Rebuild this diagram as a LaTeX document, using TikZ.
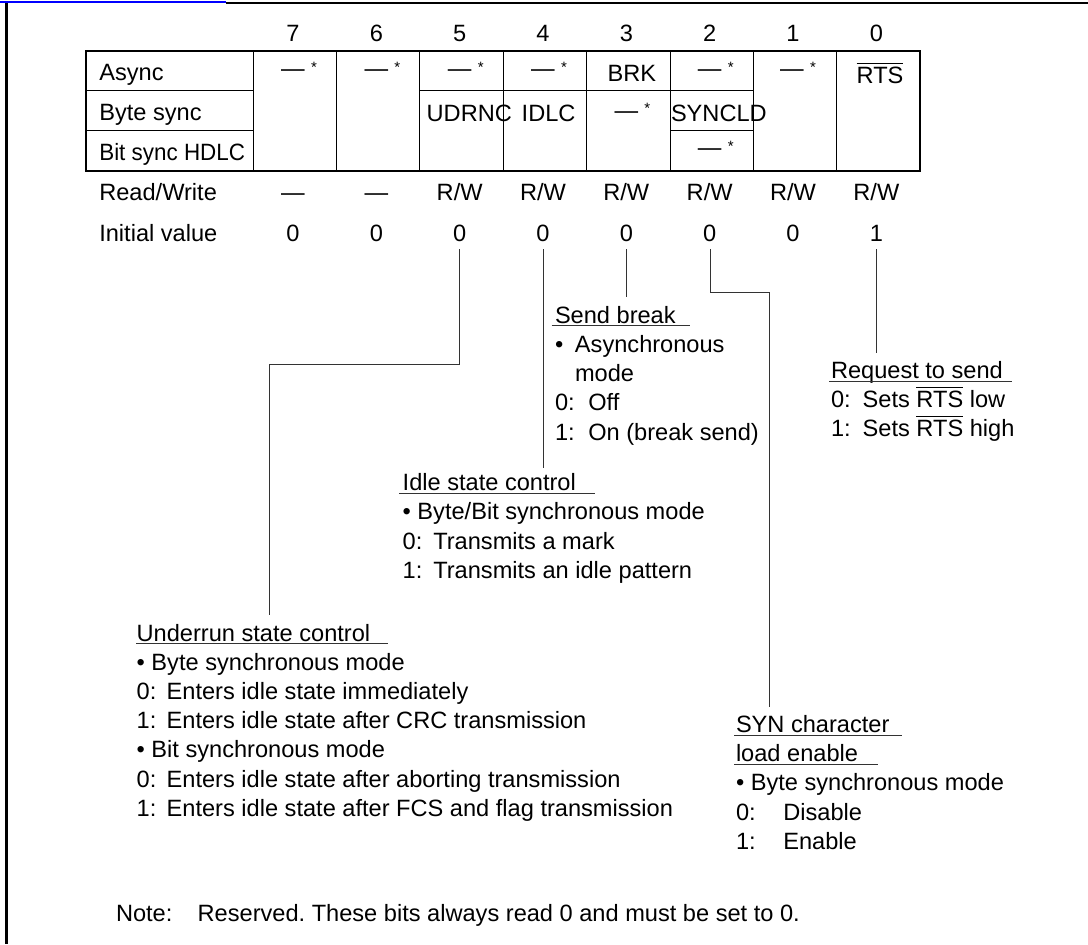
\documentclass[tikz,border=0pt]{standalone}
\usepackage{fontspec}
\setmainfont{Liberation Sans}
\frenchspacing
\newcommand\ovl[1]{\leavevmode\vbox{\hrule height 0.5pt\kern 1.3pt\hbox{#1}}}
\newcommand\rsv[3]{%
  \node[ctxt] (#1) at (#2,#3) {—};
  \node[ast] (#1s) at ([xshift=10.5pt,yshift=2.3pt]#1.base) {*};}
\tikzset{
  txt/.style={inner sep=0pt, outer sep=0pt, anchor=base west, font=\fontsize{11.8}{14}\selectfont},
  ctxt/.style={txt, anchor=base},
  ast/.style={inner sep=0pt, outer sep=0pt, anchor=base, font=\fontsize{7.5}{8}\selectfont},
  conn/.style={draw=black!80, line width=0.5pt},
  uline/.style={draw=black!80, line width=0.5pt},
  gridln/.style={draw=black, line width=0.5pt},
  outerln/.style={draw=black, line width=1pt},
}
\begin{document}
\begin{tikzpicture}[x=0.5pt,y=-0.5pt]
\useasboundingbox (0,0) rectangle (1088,944);
% frame
\draw[black, line width=1.15pt] (226,3.2) -- (1088,3.2);
\draw[black, line width=1.3pt] (6.7,2) -- (6.7,944);
\draw[blue, line width=1.15pt] (0,2.2) -- (226,2.2);
% bit numbers
\foreach \b in {7,...,0} {
  \pgfmathsetmacro\cx{293+83.333*(7-\b)}
  \node[ctxt] (n\b) at (\cx,41.7) {\b};
}
% table grid
\foreach \k in {0,...,7} \draw[gridln] ({253.33+83.333*\k},50.7) -- ({253.33+83.333*\k},171);
\draw[gridln] (86,90.3) -- (253.33,90.3);
\draw[gridln] (420,90.3) -- (753.33,90.3);
\draw[gridln] (86,130.3) -- (253.33,130.3);
\draw[gridln] (670,130.3) -- (753.33,130.3);
\draw[outerln] (86,50.7) rectangle (920,171);
% row labels
\node[txt] (lasync) at (99.3,80) {Async};
\node[txt] (lbyte) at (99.3,120) {Byte sync};
\node[txt] (lbit) at (99.3,160) {\scalebox{0.95}[1]{Bit sync HDLC}};
\node[txt] (lrw) at (99.3,200) {Read/Write};
\node[txt] (linit) at (99.3,241) {Initial value};
% cells
\rsv{r7}{293}{76.6}
\rsv{r6}{376.3}{76.6}
\rsv{r5}{459.7}{76.6}
\rsv{r4}{543}{76.6}
\rsv{r2}{709.7}{76.6}
\rsv{r1}{792}{76.6}
\rsv{rb3}{626.3}{118.3}
\rsv{rh2}{709.7}{155.6}
\node[txt] (brk) at (607.7,81.7) {BRK};
\node[txt] (rts) at (856.7,83.3) {\ovl{RTS}};
\node[txt] (udrnc) at (426.7,121.7) {UDRNC};
\node[txt] (idlc) at (521.7,121.7) {IDLC};
\node[txt] (syncld) at (671,121.7) {SYNCLD};
% read/write and initial values
\foreach \b/\rw/\iv in {7/—/0,6/—/0,5/R\slash W/0,4/R\slash W/0,3/R\slash W/0,2/R\slash W/0,1/R\slash W/0,0/R\slash W/1} {
  \pgfmathsetmacro\cx{293+83.333*(7-\b)}
  \node[ctxt] (w\b) at (\cx,200) {\rw};
  \node[ctxt] (v\b) at (\cx,241) {\iv};
}
% Send break
\node[txt] (sb0) at (555,323.3) {Send break};
\draw[uline] (551.7,325.5) -- (690,325.5);
\node[txt] (sb1) at (555,352.5) {\makebox[10pt][l]{•}Asynchronous};
\node[txt] (sb2) at (555,381.7) {\hspace*{10pt}mode};
\node[txt] (sb3) at (555,410.9) {\makebox[16.65pt][l]{0:}Off};
\node[txt] (sb4) at (555,440.1) {\makebox[16.65pt][l]{1:}On (break send)};
% Idle state control
\node[txt] (is0) at (402.7,490.7) {Idle state control};
\draw[uline] (399.3,493.3) -- (595,493.3);
\node[txt] (is1) at (402.7,519.9) {• Byte/Bit synchronous mode};
\node[txt] (is2) at (402.7,549.1) {\makebox[15.3pt][l]{0:}Transmits a mark};
\node[txt] (is3) at (402.7,578.3) {\makebox[15.3pt][l]{1:}Transmits an idle pattern};
% Request to send
\node[txt] (rq0) at (831,378.3) {Request to send};
\draw[uline] (829,381.7) -- (1011.7,381.7);
\node[txt] (rq1) at (831,407.3) {\makebox[15.85pt][l]{0:}Sets \ovl{RTS} low};
\node[txt] (rq2) at (831,436.3) {\makebox[15.85pt][l]{1:}Sets \ovl{RTS} high};
% Underrun state control
\node[txt] (us0) at (136.7,641.3) {Underrun state control};
\draw[uline] (136,643.3) -- (388.3,643.3);
\node[txt] (us1) at (136.7,670.2) {• Byte synchronous mode};
\node[txt] (us2) at (136.7,699.4) {\makebox[15pt][l]{0:}Enters idle state immediately};
\node[txt] (us3) at (136.7,728.6) {\makebox[15pt][l]{1:}Enters idle state after CRC transmission};
\node[txt] (us4) at (136.7,757.8) {• Bit synchronous mode};
\node[txt] (us5) at (136.7,787) {\makebox[15pt][l]{0:}Enters idle state after aborting transmission};
\node[txt] (us6) at (136.7,816.2) {\makebox[15pt][l]{1:}Enters idle state after FCS and flag transmission};
% SYN character load enable
\node[txt] (sy0) at (736,732.3) {SYN character};
\draw[uline] (734,735.7) -- (902.3,735.7);
\node[txt] (sy1) at (736,761.7) {load enable};
\draw[uline] (734,764.3) -- (878.3,764.3);
\node[txt] (sy2) at (736,790.9) {• Byte synchronous mode};
\node[txt] (sy3) at (736,820.1) {\makebox[23.65pt][l]{0:}Disable};
\node[txt] (sy4) at (736,849.3) {\makebox[23.65pt][l]{1:}Enable};
% Note
\node[txt] (note) at (116,921.7) {Note:};
\node[txt] (notet) at (197.7,921.7) {Reserved. These bits always read 0 and must be set to 0.};
% connectors
\coordinate (k5a) at (459.5,249);
\coordinate (k5b) at (459.5,364.3);
\coordinate (k5c) at (269.3,364.3);
\coordinate (k5d) at (269.3,615);
\coordinate (k4a) at (543,249);
\coordinate (k4b) at (543,468.3);
\coordinate (k3a) at (626.5,249);
\coordinate (k3b) at (626.5,296.7);
\coordinate (k2a) at (710,249);
\coordinate (k2b) at (710,292.3);
\coordinate (k2c) at (769,292.3);
\coordinate (k2d) at (769,706.7);
\coordinate (k0a) at (876,249);
\coordinate (k0b) at (876,352.7);
\draw[conn] (k5a) -- (k5b) -- (k5c) -- (k5d);
\draw[conn] (k4a) -- (k4b);
\draw[conn] (k3a) -- (k3b);
\draw[conn] (k2a) -- (k2b) -- (k2c) -- (k2d);
\draw[conn] (k0a) -- (k0b);
\end{tikzpicture}
\end{document}
